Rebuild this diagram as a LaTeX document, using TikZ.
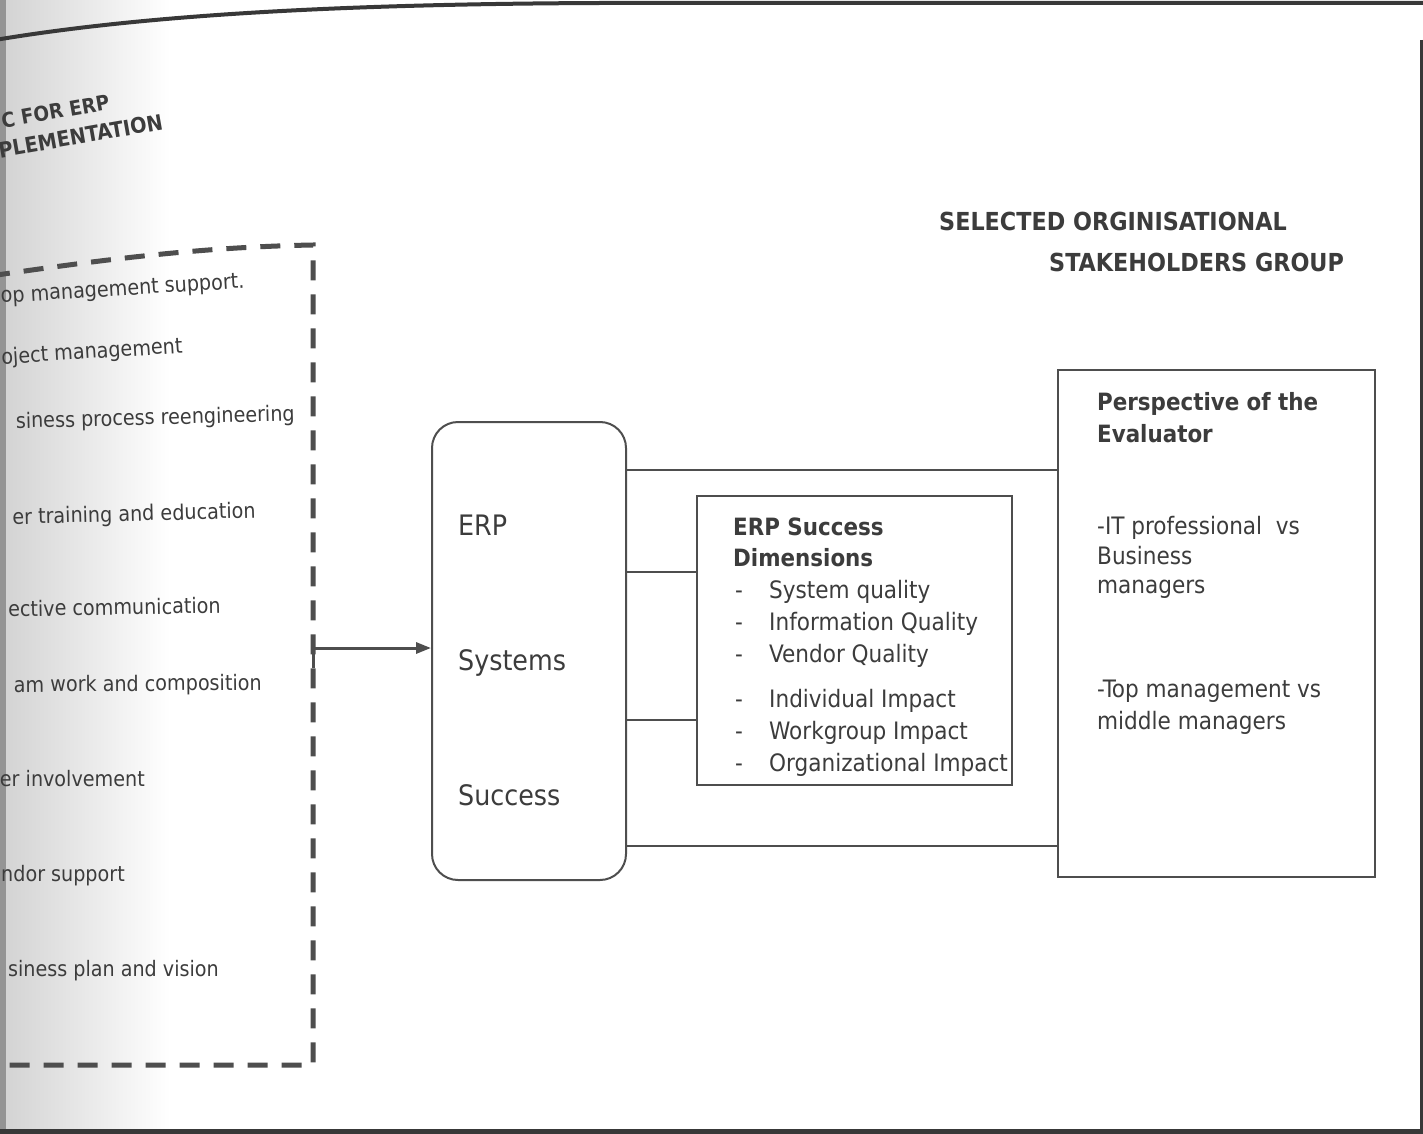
\documentclass[tikz,border=0pt]{standalone}
\usepackage{fontspec}
\setmainfont{DejaVu Sans Condensed}
\usetikzlibrary{arrows.meta}

\definecolor{ink}{HTML}{3C3C3C}
\definecolor{rule}{HTML}{4E4E4E}

\tikzset{
  txt/.style={inner sep=0pt, anchor=base west, text=ink, font=\fontsize{24}{29}\selectfont},
  listtxt/.style={txt, anchor=base east, font=\fontsize{21.3}{26}\selectfont},
  bold/.style={txt, font=\fontsize{23.8}{29}\selectfont\bfseries},
  capsbold/.style={txt, font=\fontsize{24.8}{30}\selectfont\bfseries},
  bigtxt/.style={txt, font=\fontsize{28.2}{34}\selectfont},
  boxline/.style={draw=rule, line width=2pt},
  thinlink/.style={draw=rule, line width=1.5pt},
  thicklink/.style={draw=rule, line width=2.8pt},
  dashedge/.style={draw=rule, line width=5pt, dash pattern=on 20pt off 14pt},
  feed/.style={draw=rule, line width=3pt, -{Triangle[length=15pt,width=11pt]}},
  pageedge/.style={draw=black!78, line cap=butt},
}

\begin{document}
\begin{tikzpicture}[x=1pt,y=-1pt]
\useasboundingbox (0,0) rectangle (1423,1134);
\clip (0,0) rectangle (1423,1134);

% paper, with the shadow of the binding on the left
\fill[white] (0,0) rectangle (1423,1134);
\shade[left color=black!17, right color=white] (6,0) rectangle (170,1134);
\fill[black!42] (0,0) rectangle (6,1134);

% page edges
\draw[pageedge, line width=4pt] (-5,40) .. controls (150,14) and (350,4) .. (600,3) -- (1430,3);
\draw[pageedge, line width=3pt] (1421,40) -- (1421,1140);
\draw[pageedge, line width=5pt] (-5,1131) -- (1430,1131);

% heading of the factor list
\node[txt, anchor=north west, rotate=10, align=left,
      font=\fontsize{20.5}{29}\selectfont\bfseries] (csf) at (0,113)
      {C FOR ERP\\\hspace*{-8pt}{\fontsize{21.5}{29}\selectfont PLEMENTATION}};

% factor list inside the dashed frame
\draw[dashedge] (-10,276) .. controls (100,260) and (200,247) .. (313,245) -- (313,1065) -- (-10,1065);
\node[listtxt, rotate=3.5] (f1) at (245,288) {op management support.};
\node[listtxt, rotate=3.5] (f2) at (183,353) {oject management};
\node[listtxt, rotate=1.5] (f3) at (295,421) {siness process reengineering};
\node[listtxt, rotate=1.5] (f4) at (256,518) {er training and education};
\node[listtxt, rotate=1] (f5) at (221,613) {ective communication};
\node[listtxt, rotate=0.5] (f6) at (262,690) {am work and composition};
\node[listtxt] (f7) at (145,786) {er involvement};
\node[listtxt] (f8) at (125,881) {ndor support};
\node[listtxt] (f9) at (219,976) {siness plan and vision};
\coordinate (dashexit) at (313,668);

% stakeholder heading
\node[capsbold] (sh1) at (939,230) {SELECTED ORGINISATIONAL};
\node[capsbold] (sh2) at (1049,271) {STAKEHOLDERS GROUP};

% ERP systems success
\node[boxline, rounded corners=26pt, minimum width=194pt, minimum height=458pt, inner sep=0pt] (erp) at (529,651) {};
\node[bigtxt] (erp1) at (458,535) {ERP};
\node[bigtxt] (erp2) at (458,670) {Systems};
\node[bigtxt] (erp3) at (458,805) {Success};

% success dimensions
\node[boxline, minimum width=315pt, minimum height=289pt, inner sep=0pt] (dim) at (854.5,640.5) {};
\node[bold] (dimh1) at (733,535) {ERP Success};
\node[bold] (dimh2) at (733,566) {Dimensions};
\foreach \t [count=\i] in {598,630,662,707,739,771}{
  \node[txt] (dash\i) at (735,\t) {-};
}
\node[txt] (d1) at (769,598) {System quality};
\node[txt] (d2) at (769,630) {Information Quality};
\node[txt] (d3) at (769,662) {Vendor Quality};
\node[txt] (d4) at (769,707) {Individual Impact};
\node[txt] (d5) at (769,739) {Workgroup Impact};
\node[txt] (d6) at (769,771) {Organizational Impact};

% perspective of the evaluator
\node[boxline, line width=2.8pt, minimum width=317pt, minimum height=507pt, inner sep=0pt] (persp) at (1216.5,623.5) {};
\node[bold] (p1) at (1097,410) {Perspective of the};
\node[bold] (p2) at (1097,442) {Evaluator};
\node[txt] (p3) at (1097,534) {-IT professional\ \ vs};
\node[txt] (p4) at (1097,564) {Business};
\node[txt] (p5) at (1097,593) {managers};
\node[txt] (p6) at (1097,697) {-Top management vs};
\node[txt] (p7) at (1097,729) {middle managers};

% connectors
\draw[feed] (dashexit) |- ([yshift=3pt]erp.west);
\coordinate (ltop) at ([yshift=181pt]erp.east);
\coordinate (lmida) at ([yshift=79pt]erp.east);
\coordinate (lmidb) at ([yshift=-69pt]erp.east);
\coordinate (lbot) at ([yshift=-195pt]erp.east);
\draw[thicklink] (ltop) -- (ltop -| persp.west);
\draw[thicklink] (lbot) -- (lbot -| persp.west);
\draw[thinlink] (lmida) -- (lmida -| dim.west);
\draw[thinlink] (lmidb) -- (lmidb -| dim.west);
\end{tikzpicture}
\end{document}
